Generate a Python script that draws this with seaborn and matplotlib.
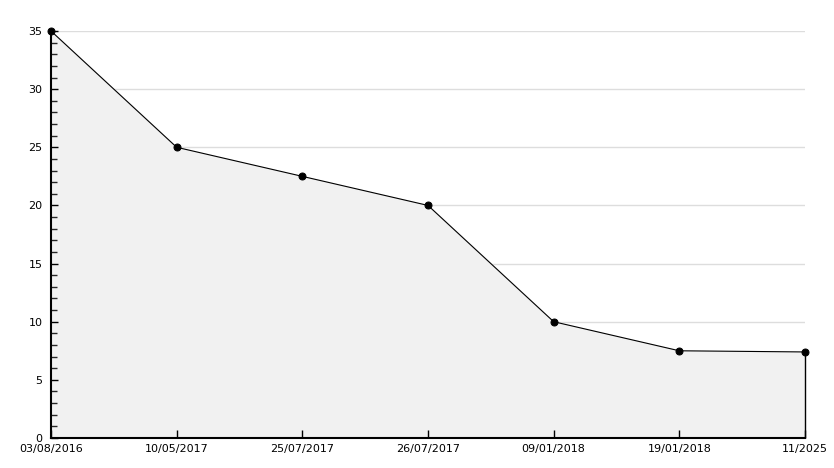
import matplotlib
matplotlib.use("Agg")
import matplotlib.pyplot as plt
import seaborn as sns
import pandas as pd
import numpy as np
from matplotlib.ticker import MultipleLocator

dates = ["03/08/2016", "10/05/2017", "25/07/2017", "26/07/2017", "09/01/2018", "19/01/2018", "11/2025"]
values = [35, 25, 22.5, 20, 10, 7.5, 7.4]
y_ticks = [0, 5, 10, 15, 20, 25, 30, 35]

sns.set_style("white")
plt.rcParams['font.family'] = ['DejaVu Sans']

df = pd.DataFrame({"x": np.arange(len(dates)), "y": values})

fig = plt.figure(figsize=(8.34, 4.68), dpi=100)
ax = fig.add_axes([51/834, 30/468, (805-51)/834, (438-31)/468])
ax.set_axisbelow(False)

ax.fill_between(df["x"], df["y"], 0, color="#f1f1f1", zorder=1)
for t in y_ticks[1:]:
    ax.axhline(t, color="#dddddd", lw=1, zorder=0.5)
sns.lineplot(data=df, x="x", y="y", ax=ax, color="black", lw=0.8,
             marker="o", markersize=5, markeredgecolor="black", zorder=3, clip_on=False)
ax.vlines(df["x"].iloc[-1], 0, df["y"].iloc[-1], color="black", lw=1, zorder=3, clip_on=False)

ax.set_xlim(0, len(dates) - 1)
ax.set_ylim(0, 35)
ax.set_xticks(df["x"])
ax.set_xticklabels(dates)
ax.set_yticks(y_ticks)
ax.yaxis.set_minor_locator(MultipleLocator(1))
ax.set_xlabel("")
ax.set_ylabel("")

for s in ["top", "right"]:
    ax.spines[s].set_visible(False)
for s in ["left", "bottom"]:
    ax.spines[s].set_color("black")
    ax.spines[s].set_linewidth(1.5)
    ax.spines[s].set_zorder(4)

ax.tick_params(axis="y", which="major", direction="in", length=5, width=1, labelsize=8, pad=6, colors="black", left=True)
ax.tick_params(axis="y", which="minor", direction="in", length=4, width=1, left=True)
ax.tick_params(axis="x", which="major", direction="in", length=6, width=1, labelsize=8, pad=4, colors="black", bottom=True)
ax.tick_params(axis="x", which="minor", bottom=False)

fig.savefig("out.png", dpi=100, facecolor="white")
